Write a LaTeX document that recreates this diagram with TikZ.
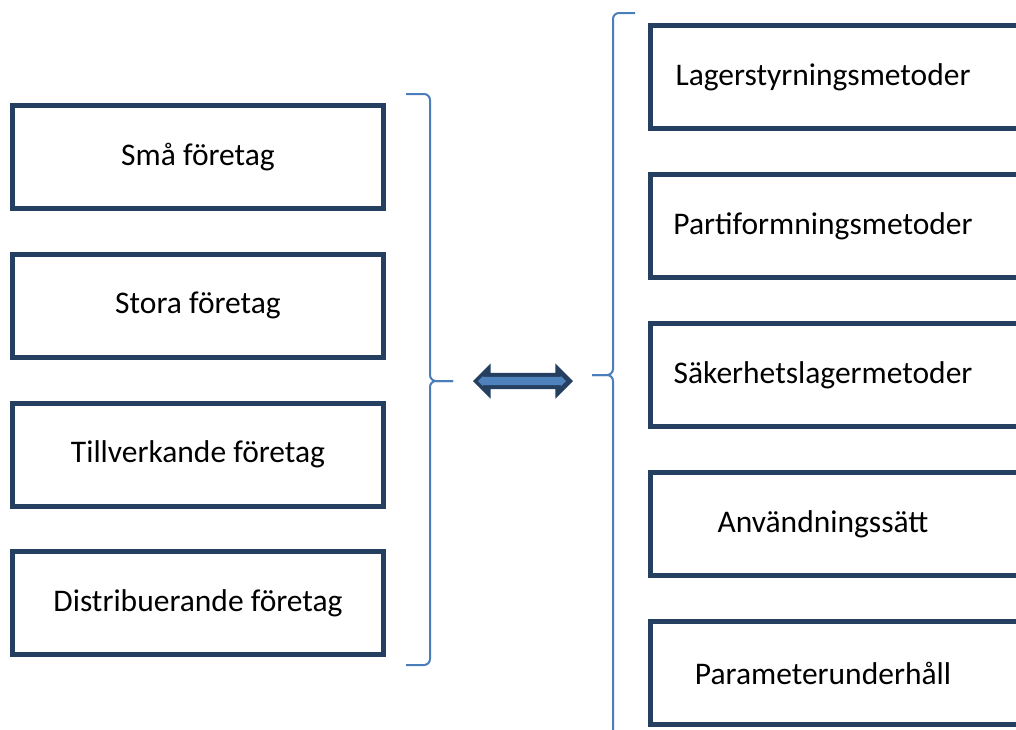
\documentclass[tikz,border=0pt]{standalone}
\usepackage{fontspec}
\setmainfont{Carlito}
\usetikzlibrary{positioning,shapes.arrows}
\definecolor{boxNavy}{HTML}{243F60}
\definecolor{braceBlue}{HTML}{4A7EBB}
\definecolor{arrowBlue}{HTML}{4F81BD}
\tikzset{
  boxtext/.style={font=\fontsize{31.5}{36}\selectfont},
  firmbox/.style={
    draw=boxNavy, line width=5pt, minimum width=371pt, minimum height=103pt,
    inner sep=0pt, outer sep=0pt, boxtext
  },
  methodbox/.style={
    minimum width=345pt, minimum height=103pt, inner sep=0pt, outer sep=0pt, boxtext
  },
  boxline/.style={draw=boxNavy, line width=5pt},
  bracket/.style={draw=braceBlue, line width=2pt, rounded corners=6pt},
  linkarrow/.style={double arrow, inner xsep=0pt, outer sep=0pt}
}
\begin{document}
\begin{tikzpicture}[x=1pt, y=-1pt, node distance=45.8pt]
  \useasboundingbox (0,0) rectangle (1016,729);
  \clip (0,0) rectangle (1016,729);
  % company types
  \node[firmbox] (f1) at (198,157) {Små företag};
  \node[firmbox, below=of f1] (f2) {Stora företag};
  \node[firmbox, below=of f2] (f3) {Tillverkande företag};
  \node[firmbox, below=of f3] (f4) {Distribuerande företag};
  % methods
  \node[methodbox] (m1) at (823,77) {Lagerstyrningsmetoder};
  \node[methodbox, below=46pt of m1] (m2) {Partiformningsmetoder};
  \node[methodbox, below=46pt of m2] (m3) {Säkerhetslagermetoder};
  \node[methodbox, below=46pt of m3] (m4) {Användningssätt};
  \node[methodbox, below=46pt of m4] (m5) {Parameterunderhåll};
  \foreach \i in {1,...,5}{
    \draw[boxline] ([xshift=60pt]m\i.north east) -- (m\i.north west)
      -- (m\i.south west) -- ([xshift=60pt]m\i.south east);
  }
  % braces
  \draw[bracket] (406,94) -- (430,94) -- (430,381) -- (453,381);
  \draw[bracket] (453,381) -- (430,381) -- (430,665) -- (406,665);
  \draw[bracket] (635,13) -- (613,13) -- (613,375) -- (592,375);
  \draw[bracket] (592,375) -- (613,375) -- (613,740);
  % double arrow
  \node[linkarrow, fill=boxNavy, minimum height=100pt, minimum width=35pt,
    inner ysep=8pt, double arrow head extend=9.5pt] (link) at (523,381) {};
  \node[linkarrow, fill=arrowBlue, minimum height=88pt, minimum width=10pt,
    inner ysep=4pt, double arrow head extend=1pt] (core) at (522,381) {};
\end{tikzpicture}
\end{document}
